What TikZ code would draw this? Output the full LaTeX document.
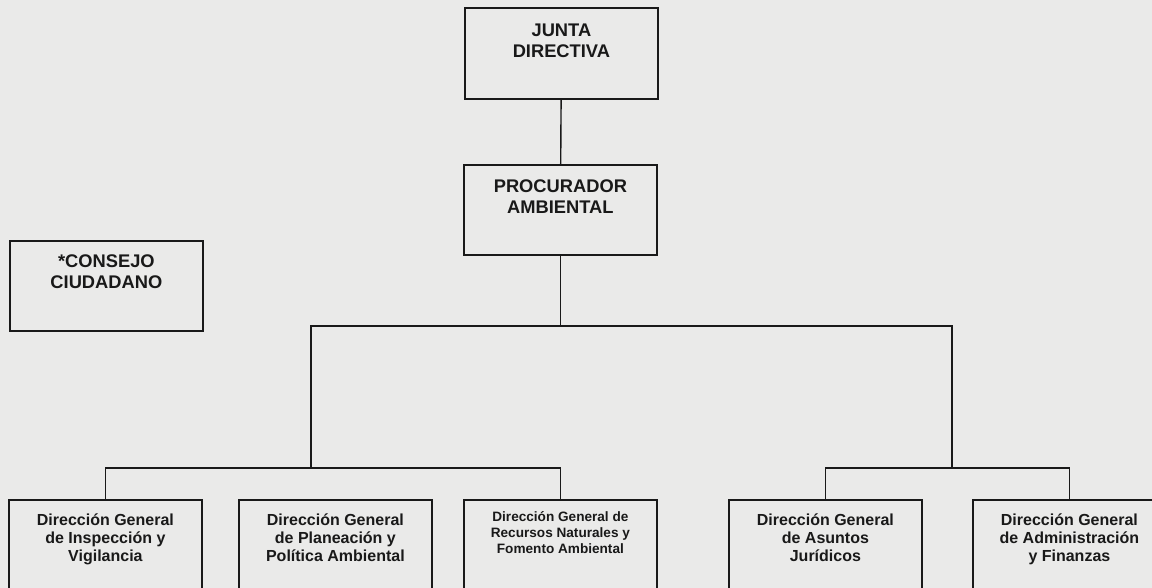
\documentclass[tikz,border=0pt]{standalone}
\usepackage{fontspec}
\setmainfont{Liberation Sans}
\definecolor{papel}{RGB}{234,234,233}
\definecolor{tinta}{RGB}{25,25,25}
\tikzset{
  cargo/.style={draw=tinta, line width=1.8pt, inner sep=0pt, anchor=north west,
    align=center, text=tinta, minimum width=193pt},
  mando/.style={cargo, font=\fontsize{18.3}{21}\selectfont\bfseries,
    minimum height=90pt, text height=49pt, text depth=41pt},
  direccion/.style={cargo, font=\fontsize{16}{17.6}\selectfont\bfseries,
    minimum height=110pt, text height=61.2pt, text depth=48.8pt},
  enlace/.style={draw=tinta, line width=1.4pt},
}
\begin{document}
\begin{tikzpicture}  % ------ Organigrama de la Procuraduria --------------
      [x=1pt, y=-1pt]

    \fill[papel] (0,0) rectangle (1152,588);
    \useasboundingbox (0,0) rectangle (1152,588);
    \clip (0,0) rectangle (1152,588);

    \node[mando, minimum height=91pt, text height=50pt] (junta) at (464,7) {JUNTA\\DIRECTIVA};
    \node[mando] (procurador) at (463,164) {PROCURADOR\\AMBIENTAL};
    \node[mando, text height=48pt, text depth=42pt] (consejo) at (9,240) {*CONSEJO\\CIUDADANO};

    \node[direccion] (inspeccion) at (8,499) {Dirección General\\de Inspección y\\Vigilancia};
    \node[direccion] (planeacion) at (238,499) {Dirección General\\de Planeación y\\Política Ambiental};
    \node[direccion, font=\fontsize{13.6}{16}\selectfont\bfseries, text height=54pt, text depth=56pt]
      (recursos) at (463,499) {Dirección General de\\Recursos Naturales y\\Fomento Ambiental};
    \node[direccion] (juridicos) at (728,499) {Dirección General\\de Asuntos\\Jurídicos};
    \node[direccion] (finanzas) at (972,499) {Dirección General\\de Administración\\y Finanzas};

    \coordinate (bus) at (556,326);
    \coordinate (izq) at (311,468);
    \coordinate (der) at (952,468);

    \draw[enlace] (junta) -- (procurador);
    \draw[enlace] (procurador.south) -- (procurador.south |- bus);
    \draw[enlace] (izq) |- (bus) -| (der);
    \draw[enlace] (inspeccion.north) |- (izq) -| (recursos.north);
    \draw[enlace] (juridicos.north) |- (der) -| (finanzas.north);
\end{tikzpicture}
\end{document}
